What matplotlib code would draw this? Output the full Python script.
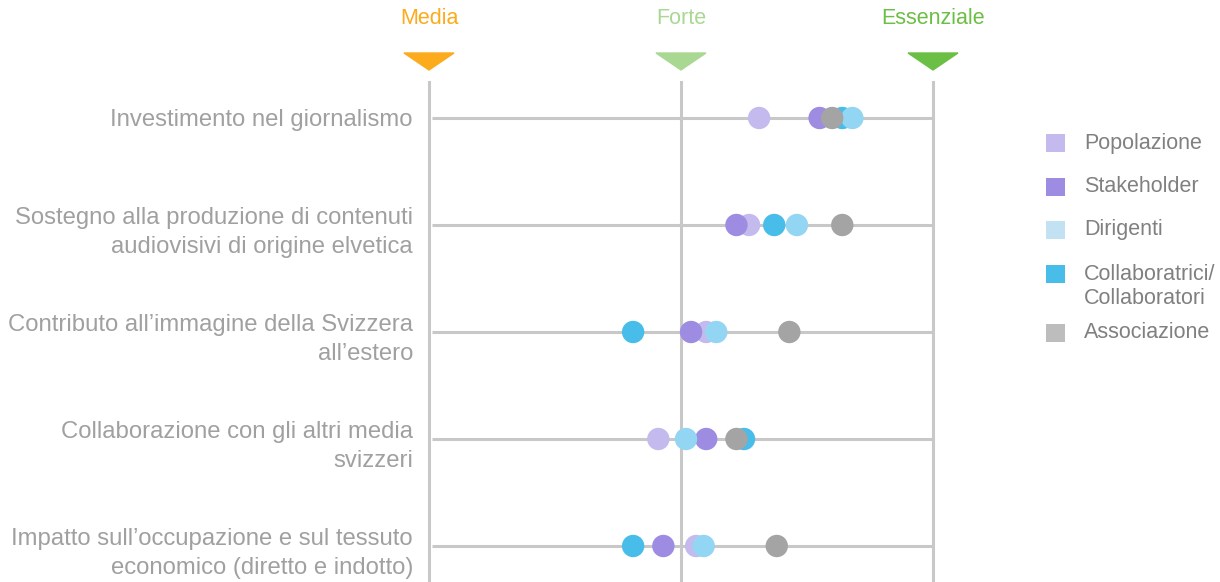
import matplotlib
matplotlib.use("Agg")
import matplotlib.pyplot as plt
from matplotlib.patches import Polygon, Rectangle

plt.rcParams['font.family'] = ['Liberation Sans', 'DejaVu Sans']

# categories (top to bottom)
categories = [
    "Investimento nel giornalismo",
    "Sostegno alla produzione di contenuti\naudiovisivi di origine elvetica",
    "Contributo all\u2019immagine della Svizzera\nall\u2019estero",
    "Collaborazione con gli altri media\nsvizzeri",
    "Impatto sull\u2019occupazione e sul tessuto\neconomico (diretto e indotto)",
]

# scale: 1 = Media, 2 = Forte, 3 = Essenziale
levels = [1, 2, 3]
level_labels = ["Media", "Forte", "Essenziale"]

# groups, in drawing order (later on top)
groups = ["Popolazione", "Stakeholder", "Collaboratrici/\nCollaboratori", "Dirigenti", "Associazione"]
popolazione = [2.31, 2.27, 2.10, 1.91, 2.06]
stakeholder = [2.55, 2.22, 2.04, 2.10, 1.93]
collaboratori = [2.64, 2.37, 1.81, 2.25, 1.81]
dirigenti = [2.68, 2.46, 2.14, 2.02, 2.09]
associazione = [2.60, 2.64, 2.43, 2.22, 2.38]
series = [popolazione, stakeholder, collaboratori, dirigenti, associazione]

dot_colors = ["#c4baee", "#9d8ce2", "#48bdea", "#93d6f3", "#a4a4a4"]
level_colors = ["#fbab1c", "#a9d893", "#6cbf45"]

legend_order = ["Popolazione", "Stakeholder", "Dirigenti", "Collaboratrici/\nCollaboratori", "Associazione"]
legend_colors = ["#c4baee", "#9d8ce2", "#c2e1f2", "#48bdea", "#bdbdbd"]

W, H = 1220, 582
fig = plt.figure(figsize=(W / 100, H / 100), dpi=100)

# axes: x 1..3 -> px 429..933, rows 0..4 -> px 118..546
row_px = 107.0
top_px, bot_px = 82, 582
ylim_top = (top_px - 118) / row_px
ylim_bot = (bot_px - 118) / row_px
ax = fig.add_axes([429 / W, 0, 504 / W, (bot_px - top_px) / H])
ax.set_xlim(1, 3)
ax.set_ylim(ylim_bot, ylim_top)
ax.axis("off")

line_color = "#c8c8c8"
for lv in levels:
    ax.axvline(lv, color=line_color, lw=2.2, zorder=1, clip_on=False)
rows = list(range(len(categories)))
for r in rows:
    ax.plot([1.012, 3], [r, r], color=line_color, lw=2.2, zorder=1,
            solid_capstyle="butt")

for vals, col in zip(series, dot_colors):
    ax.scatter(vals, rows, s=260, color=col, edgecolors="none", zorder=3, clip_on=False)

# triangles and level labels above the axes
px_u = 1 / 252.0  # x units per pixel
for lv, lab, col in zip(levels, level_labels, level_colors):
    tri = Polygon([[lv - 25 * px_u, (53 - 118) / row_px],
                   [lv + 25 * px_u, (53 - 118) / row_px],
                   [lv, (70 - 118) / row_px]],
                  closed=True, color=col, clip_on=False, zorder=2)
    ax.add_patch(tri)
    ax.text(lv, (19 - 118) / row_px, lab, color=col, fontsize=15.5,
            ha="center", va="center", clip_on=False)

# category labels
for r, cat in zip(rows, categories):
    lines = cat.split("\n")
    y0 = r + 2 / row_px if len(lines) == 1 else r - 7 / row_px
    for i, ln in enumerate(lines):
        ax.text(1 - 16 * px_u, y0 + i * 29 / row_px, ln, color="#a0a0a0",
                fontsize=17.2, ha="right", va="center", clip_on=False)

# legend
leg_y = [143, 187, 230, 274, 333]
for name, col, y in zip(legend_order, legend_colors, leg_y):
    fig.add_artist(Rectangle((1046 / W, 1 - (y + 9) / H), 19 / W, 18 / H,
                             transform=fig.transFigure, color=col, lw=0))
    for i, ln in enumerate(name.split("\n")):
        fig.text(1084 / W, 1 - (y + i * 25) / H, ln, color="#808080",
                 fontsize=15.5, ha="left", va="center")

fig.savefig("out.png", dpi=100)
